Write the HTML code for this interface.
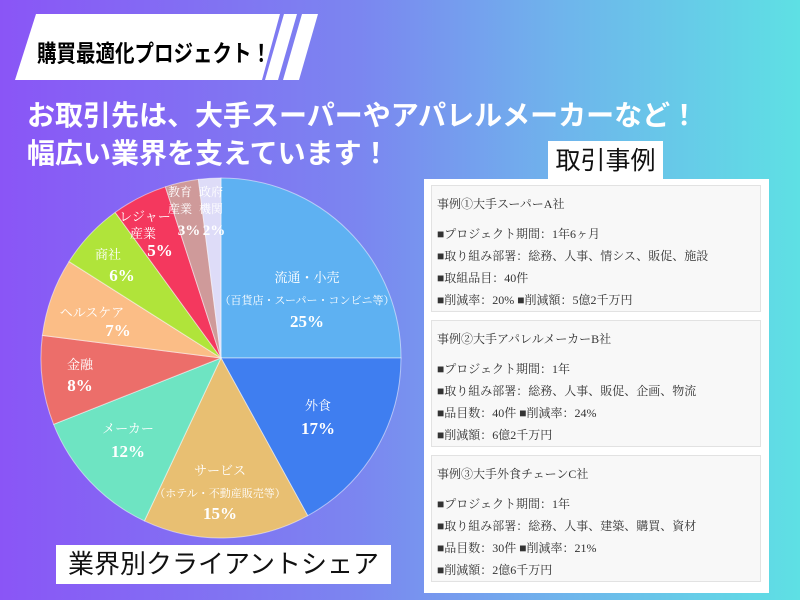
<!DOCTYPE html>
<html><head><meta charset="utf-8"><style>
html,body{margin:0;padding:0}
body{width:800px;height:600px;overflow:hidden;position:relative;background:linear-gradient(90deg,#8a55f6 0%,#7b86f0 45%,#6fb4ec 70%,#5ee0e4 100%);font-family:"Liberation Sans","Noto Sans CJK JP",sans-serif}
.abs{position:absolute}
.panel{left:424px;top:179px;width:345px;height:414px;background:#fff}
.card{position:absolute;left:7px;width:330px;background:#f8f8f8;border:1px solid #e2e2e2;box-sizing:border-box;font-family:"Liberation Serif","Noto Serif CJK SC",serif;font-size:12px;color:#333}
.card div{position:absolute;left:5px;white-space:nowrap}
</style></head><body>
<svg class="abs" style="left:0;top:0" width="800" height="600">
<polygon points="36,14 280,14 262,80 15,80" fill="#fff"/>
<polygon points="284,14 297,14 278,80 265,80" fill="#fff"/>
<polygon points="302,14 318,14 299,80 283,80" fill="#fff"/>
<g stroke="#fff" stroke-width="1" stroke-opacity="0.5">
<path d="M221,358 L221,178 A180,180 0 0,1 401,358Z" fill="#5eb1f2"/>
<path d="M221,358 L401,358 A180,180 0 0,1 307.7,515.7Z" fill="#3f7ef0"/>
<path d="M221,358 L307.7,515.7 A180,180 0 0,1 144.4,520.9Z" fill="#e8bf72"/>
<path d="M221,358 L144.4,520.9 A180,180 0 0,1 53.6,424.3Z" fill="#6ee4c2"/>
<path d="M221,358 L53.6,424.3 A180,180 0 0,1 42.4,335.4Z" fill="#ec6e6a"/>
<path d="M221,358 L42.4,335.4 A180,180 0 0,1 69,261.6Z" fill="#fbbd86"/>
<path d="M221,358 L69,261.6 A180,180 0 0,1 115.2,212.4Z" fill="#b0e43a"/>
<path d="M221,358 L115.2,212.4 A180,180 0 0,1 165.4,186.8Z" fill="#f4385e"/>
<path d="M221,358 L165.4,186.8 A180,180 0 0,1 198.4,179.4Z" fill="#cf9a9a"/>
<path d="M221,358 L198.4,179.4 A180,180 0 0,1 221,178Z" fill="#dedcf8"/>
</g>
<g fill="#fff" font-family="Liberation Serif,Noto Serif CJK SC,serif" text-anchor="middle" font-size="13">
<text x="307" y="282">流通・小売</text>
<text x="307" y="304" font-size="11">（百貨店・スーパー・コンビニ等）</text>
<text x="307" y="327" font-size="17" font-weight="bold">25%</text>
<text x="318" y="410">外食</text>
<text x="318" y="434" font-size="17" font-weight="bold">17%</text>
<text x="220" y="475">サービス</text>
<text x="220" y="497" font-size="11">（ホテル・不動産販売等）</text>
<text x="220" y="519" font-size="17" font-weight="bold">15%</text>
<text x="128" y="433">メーカー</text>
<text x="128" y="457" font-size="17" font-weight="bold">12%</text>
<text x="80" y="369">金融</text>
<text x="80" y="391" font-size="17" font-weight="bold">8%</text>
<text x="92" y="317">ヘルスケア</text>
<text x="118" y="336" font-size="17" font-weight="bold">7%</text>
<text x="108" y="259">商社</text>
<text x="122" y="281" font-size="17" font-weight="bold">6%</text>
<text x="145" y="221">レジャー</text>
<text x="143" y="238">産業</text>
<text x="160" y="256" font-size="17" font-weight="bold">5%</text>
<text x="180" y="196" font-size="12">教育</text>
<text x="180" y="213" font-size="12">産業</text>
<text x="189" y="235" font-size="15" font-weight="bold">3%</text>
<text x="211" y="196" font-size="12">政府</text>
<text x="211" y="213" font-size="12">機関</text>
<text x="214" y="235" font-size="15" font-weight="bold">2%</text>
</g>
</svg>
<div class="abs" style="left:37px;top:34px;font-size:19.5px;font-weight:bold;color:#000;white-space:nowrap;transform:scaleY(1.2);transform-origin:left top">購買最適化プロジェクト！</div>
<div class="abs" style="left:27px;top:94px;font-size:28px;font-weight:bold;color:#fff;white-space:nowrap">お取引先は、大手スーパーやアパレルメーカーなど！</div>
<div class="abs" style="left:27px;top:132px;font-size:28px;font-weight:bold;color:#fff;white-space:nowrap">幅広い業界を支えています！</div>
<div class="abs" style="left:548px;top:141px;width:115px;height:40px;background:#fff;font-size:25px;text-align:center;line-height:40px;color:#111">取引事例</div>
<div class="abs panel">
<div class="card" style="top:6px;height:127px"><div style="top:9px">事例①大手スーパーA社</div><div style="top:39px">■プロジェクト期間：1年6ヶ月</div><div style="top:61px">■取り組み部署：総務、人事、情シス、販促、施設</div><div style="top:83px">■取組品目：40件</div><div style="top:105px">■削減率：20% ■削減額：5億2千万円</div></div>
<div class="card" style="top:141px;height:127px"><div style="top:9px">事例②大手アパレルメーカーB社</div><div style="top:39px">■プロジェクト期間：1年</div><div style="top:61px">■取り組み部署：総務、人事、販促、企画、物流</div><div style="top:83px">■品目数：40件 ■削減率：24%</div><div style="top:105px">■削減額：6億2千万円</div></div>
<div class="card" style="top:276px;height:127px"><div style="top:9px">事例③大手外食チェーンC社</div><div style="top:39px">■プロジェクト期間：1年</div><div style="top:61px">■取り組み部署：総務、人事、建築、購買、資材</div><div style="top:83px">■品目数：30件 ■削減率：21%</div><div style="top:105px">■削減額：2億6千万円</div></div>
</div>
<div class="abs" style="left:56px;top:545px;width:335px;height:39px;background:#fff;font-size:26px;line-height:39px;text-align:center;color:#111;white-space:nowrap">業界別クライアントシェア</div>
</body></html>
